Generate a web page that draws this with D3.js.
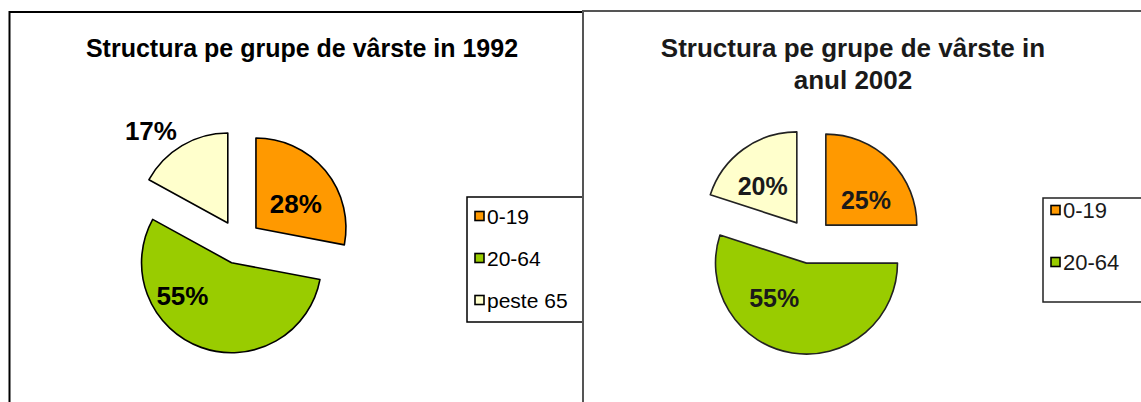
<!DOCTYPE html>
<html>
<head>
<meta charset="utf-8">
<script src="https://cdn.jsdelivr.net/npm/d3@7"></script>
<style>
  body { margin: 0; background: #fff; }
  svg { display: block; font-family: Arial, "Liberation Sans", sans-serif; }
</style>
</head>
<body>
<svg id="chart" width="1141" height="402"></svg>
<script>
// age groups and shares (percent)
const categories = ["0-19", "20-64", "peste 65"];
const values1992 = [28, 55, 17];
const values2002 = [25, 55, 20];
const colors = ["#ff9900", "#99cc00", "#ffffcc"];
const title1992 = ["Structura pe grupe de vârste in 1992"];
const title2002 = ["Structura pe grupe de vârste in", "anul 2002"];

const svg = d3.select("#chart");

// panel frames, drawn left to right so the second one covers the first one's overflow
function panel(x, y, stroke) {
    return svg.append("g").call(g => {
        g.append("rect")
            .attr("x", x).attr("y", y)
            .attr("width", 700).attr("height", 500)
            .attr("fill", "#fff")
            .attr("stroke", stroke)
            .attr("stroke-width", 2);
    });
}

// one exploded pie + title + legend
function drawPie(g, opts, values) {
    const color = d3.scaleOrdinal().domain(categories).range(colors);
    const pie = d3.pie().sort(null).value(d => d.v);
    const arcs = pie(categories.map((c, i) => ({ c: c, v: values[i] })));
    const arc = d3.arc().innerRadius(0).outerRadius(opts.r);

    // title
    g.append("text")
        .attr("x", opts.titleX)
        .attr("y", opts.titleY)
        .attr("text-anchor", "middle")
        .style("font-size", opts.titleSize + "px")
        .style("font-weight", "bold")
        .attr("fill", opts.textColor)
        .selectAll("tspan")
        .data(opts.title)
        .enter()
        .append("tspan")
        .attr("x", opts.titleX)
        .attr("dy", (d, i) => i === 0 ? 0 : opts.titleLead)
        .text(d => d);

    const slices = g.append("g")
        .attr("transform", "translate(" + opts.cx + "," + opts.cy + ")")
        .selectAll("g")
        .data(arcs)
        .enter()
        .append("g")
        .attr("transform", d => {
            const a = (d.startAngle + d.endAngle) / 2;
            return "translate(" + (Math.sin(a) * opts.explode) + "," + (-Math.cos(a) * opts.explode) + ")";
        });

    slices.append("path")
        .attr("d", arc)
        .attr("fill", d => color(d.data.c))
        .attr("stroke", opts.lineColor)
        .attr("stroke-width", 1.6)
        .attr("stroke-linejoin", "round");

    // percentage labels, placed like Excel did (angle offset / radius fraction per slice)
    slices.append("text")
        .attr("transform", (d, i) => {
            const a = (d.startAngle + d.endAngle) / 2 + opts.labelTurn[i] * Math.PI / 180;
            const rr = opts.r * opts.labelR[i];
            return "translate(" + (Math.sin(a) * rr) + "," + (-Math.cos(a) * rr) + ")";
        })
        .attr("text-anchor", "middle")
        .attr("dy", "0.36em")
        .style("font-size", opts.labelSize + "px")
        .style("font-weight", "bold")
        .attr("fill", opts.textColor)
        .text(d => d.data.v + "%");

    // legend box; only the entries that fit inside the box are shown (as in the picture)
    const lg = g.append("g").attr("transform", "translate(" + opts.legX + "," + opts.legY + ")");
    lg.append("rect")
        .attr("width", opts.legW).attr("height", opts.legH)
        .attr("fill", "#fff")
        .attr("stroke", opts.lineColor)
        .attr("stroke-width", 1.5);
    const shown = categories.filter((d, i) => opts.legFirst + i * opts.legStep + 8 < opts.legH);
    const item = lg.selectAll("g.item")
        .data(shown)
        .enter()
        .append("g")
        .attr("class", "item")
        .attr("transform", (d, i) => "translate(0," + (opts.legFirst + i * opts.legStep) + ")");
    item.append("rect")
        .attr("x", opts.legSq).attr("y", -4.5)
        .attr("width", 9).attr("height", 9)
        .attr("fill", d => color(d))
        .attr("stroke", "#000")
        .attr("stroke-width", 1.6);
    item.append("text")
        .attr("x", opts.legSq + 12)
        .attr("dy", "0.36em")
        .style("font-size", opts.legSize + "px")
        .attr("fill", opts.textColor)
        .text(d => d);
}

const left = panel(9.5, 12, "#000");
drawPie(left, {
    title: title1992, titleX: 302, titleY: 57, titleSize: 25, titleLead: 32,
    cx: 239, cy: 242, r: 90, explode: 22,
    labelTurn: [8, 36, -9], labelR: [0.52, 0.66, 1.34], labelSize: 26,
    legX: 467, legY: 197, legW: 130, legH: 125, legFirst: 19, legStep: 42, legSq: 8, legSize: 21,
    textColor: "#000", lineColor: "#000"
}, values1992);

const right = panel(583, 11, "#555");
drawPie(right, {
    title: title2002, titleX: 853, titleY: 57, titleSize: 26, titleLead: 32,
    cx: 810, cy: 241, r: 91, explode: 22.4,
    labelTurn: [13, 34, -7], labelR: [0.52, 0.52, 0.55], labelSize: 25,
    legX: 1043, legY: 198, legW: 130, legH: 104, legFirst: 12, legStep: 52, legSq: 8, legSize: 22,
    textColor: "#1a1a1a", lineColor: "#222"
}, values2002);
</script>
</body>
</html>
